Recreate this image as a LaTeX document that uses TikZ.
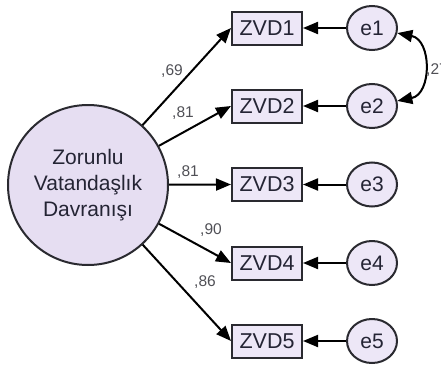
\documentclass[tikz,border=0pt]{standalone}
\usepackage{fontspec}
\setmainfont{Liberation Sans}
\usetikzlibrary{arrows.meta,shapes.geometric}
\definecolor{latentfill}{HTML}{E6DEF2}
\definecolor{boxfill}{HTML}{EDE7F7}
\definecolor{edgecol}{HTML}{2A2A30}
\definecolor{textcol}{HTML}{242434}
\definecolor{labelcol}{HTML}{505056}
\tikzset{
  latent/.style={circle, draw=edgecol, line width=2pt, fill=latentfill,
    minimum size=160pt, inner sep=0pt, align=center, text=textcol,
    font=\fontsize{21}{26}\selectfont},
  obsbox/.style={rectangle, draw=edgecol, line width=2pt, fill=boxfill,
    minimum width=70pt, minimum height=33pt, inner sep=0pt, text=textcol,
    font=\fontsize{21.5}{24}\selectfont},
  errnode/.style={ellipse, draw=edgecol, line width=2pt, fill=boxfill,
    minimum width=50pt, minimum height=44pt, inner sep=0pt, text=textcol,
    font=\fontsize{21}{24}\selectfont},
  path arrow/.style={draw=black, line width=2pt,
    -{Triangle[length=15pt,width=12pt]}},
  cov arrow/.style={draw=black, line width=2pt,
    {Triangle[length=15pt,width=12pt]}-{Triangle[length=15pt,width=12pt]}},
  loadlabel/.style={text=labelcol, inner sep=0pt,
    font=\fontsize{15.5}{18}\selectfont},
}
\begin{document}
\begin{tikzpicture}[x=1pt,y=-1pt]
  \useasboundingbox (0,0) rectangle (441,372);
  \clip (0,0) rectangle (441,372);

  % latent factor
  \node[latent] (F) at (88,185) {Zorunlu\\Vatandaşlık\\Davranışı};

  % observed indicators and their error terms
  \foreach \i/\y in {1/28,2/106,3/184.5,4/263,5/341}{
    \node[obsbox] (Z\i) at (267,\y) {ZVD\i};
    \node[errnode] (e\i) at (372,\y) {e\i};
    \draw[path arrow] (e\i) -- (Z\i);
    \draw[path arrow] (F) -- (Z\i.west);
  }

  % standardized loadings
  \node[loadlabel] (l1) at (172,71) {,69};
  \node[loadlabel] (l2) at (183,113) {,81};
  \node[loadlabel] (l3) at (188,172) {,81};
  \node[loadlabel] (l4) at (211,230) {,90};
  \node[loadlabel] (l5) at (205,282) {,86};

  % error covariance between e1 and e2
  \draw[cov arrow] (e1) .. controls (432,40) and (432,94) .. (e2);
  \node[loadlabel, anchor=west] (c12) at (426,70) {,27};
\end{tikzpicture}
\end{document}
